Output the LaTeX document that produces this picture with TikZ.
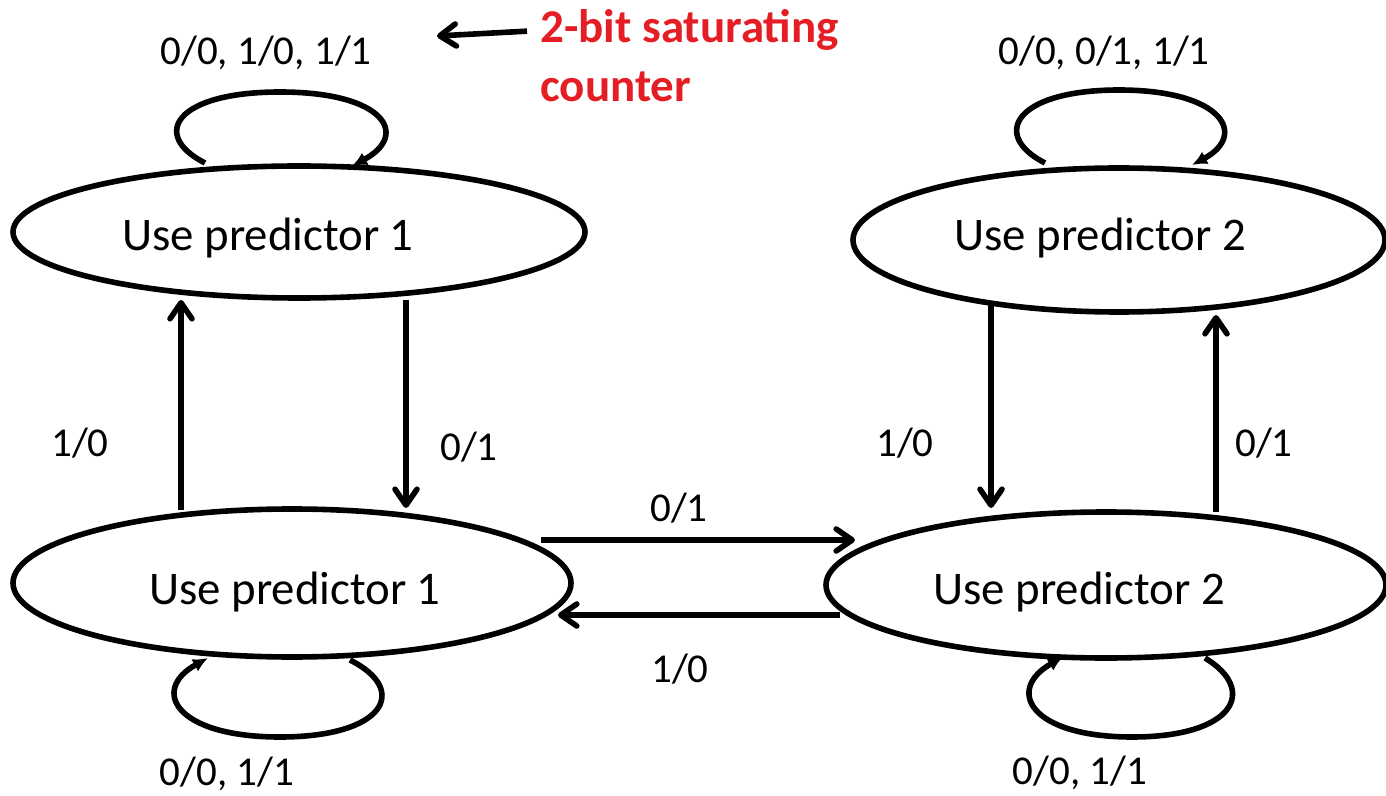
\documentclass[tikz,border=0pt]{standalone}
\usepackage{fontspec}
\setmainfont{Carlito}
\usetikzlibrary{shapes.geometric,arrows.meta,calc}
\definecolor{notered}{RGB}{228,30,36}
\begin{document}
\begin{tikzpicture}[x=0.5pt,y=-0.5pt,
  state/.style={draw, ellipse, line width=2.8pt, inner sep=0pt, outer sep=0pt},
  statetext/.style={font=\fontsize{23.4}{28}\selectfont, anchor=base, inner sep=0pt},
  lbl/.style={font=\fontsize{20.5}{24}\selectfont, anchor=base, inner sep=0pt},
  arr/.style={line width=2.8pt, -{Straight Barb[length=8pt,width=11pt,round]}},
  selfloop/.style={line width=2.8pt, -{Latex[length=7.5pt,width=7pt]}},
  note/.style={font=\bfseries\fontsize{23.5}{29.5}\selectfont, text=notered, anchor=base west, inner sep=0pt},
]
\useasboundingbox (0,0) rectangle (1386,796);

% states
\node[state, minimum width=286pt, minimum height=66pt] (s1) at (299,232) {};
\node[state, minimum width=266pt, minimum height=72pt] (s2) at (1119,240) {};
\node[state, minimum width=279pt, minimum height=74pt] (s3) at (292,583) {};
\node[state, minimum width=280pt, minimum height=73pt] (s4) at (1106,585) {};

\node[statetext] (t1) at (268,251) {Use predictor 1};
\node[statetext] (t2) at (1100,251) {Use predictor 2};
\node[statetext] (t3) at (295,604) {Use predictor 1};
\node[statetext] (t4) at (1079,604) {Use predictor 2};

% self loops
\begin{scope}[shift={(s1.center)}]
  \draw[selfloop] (-94,-69) .. controls (-149,-97) and (-124,-140) .. (-19,-140)
                  .. controls (86,-140) and (111,-97) .. (53,-66);
\end{scope}
\begin{scope}[shift={(s2.center)}]
  \draw[selfloop] (-74,-77) .. controls (-129,-105) and (-104,-150) .. (0,-150)
                  .. controls (104,-150) and (129,-105) .. (73,-75);
\end{scope}
\begin{scope}[shift={(s3.center)}]
  \draw[selfloop] (58,77) .. controls (118,107) and (93,154) .. (-12,154)
                  .. controls (-117,154) and (-142,107) .. (-84,75);
\end{scope}
\begin{scope}[shift={(s4.center)}]
  \draw[selfloop] (99,73) .. controls (152,105) and (129,152) .. (26,152)
                  .. controls (-76,152) and (-101,105) .. (-43,72);
\end{scope}

% transitions
\draw[arr] ($(s3.center)+(-111,-73)$) -- ($(s1.center)+(-118,68)$);
\draw[arr] ($(s1.center)+(107,68)$) -- ($(s3.center)+(114,-75)$);
\draw[arr] ($(s2.center)+(-128,62)$) -- ($(s4.center)+(-115,-77)$);
\draw[arr] ($(s4.center)+(110,-73)$) -- ($(s2.center)+(97,75)$);
\draw[arr] ($(s3.center)+(249,-43)$) -- ($(s4.center)+(-251,-45)$);
\draw[arr] ($(s4.center)+(-266,30)$) -- ($(s3.center)+(266,32)$);

% transition labels
\node[lbl] (l1) at (266,65) {0/0, 1/0, 1/1};
\node[lbl] (l2) at (1104,65) {0/0, 0/1, 1/1};
\node[lbl] (l3) at (80,456) {1/0};
\node[lbl] (l4) at (469,460) {0/1};
\node[lbl] (l5) at (905,456) {1/0};
\node[lbl] (l6) at (1264,456) {0/1};
\node[lbl] (l7) at (679,521) {0/1};
\node[lbl] (l8) at (680,682) {1/0};
\node[lbl] (l9) at (227,785) {0/0, 1/1};
\node[lbl] (l10) at (1080,784) {0/0, 1/1};

% annotation
\node[note] (n1) at (540,43) {2-bit saturating};
\node[note] (n2) at (540,102) {counter};
\coordinate (tip) at (437,36);
\draw[arr, shorten <=6.5pt] (n1.west) -- (tip);
\end{tikzpicture}
\end{document}
